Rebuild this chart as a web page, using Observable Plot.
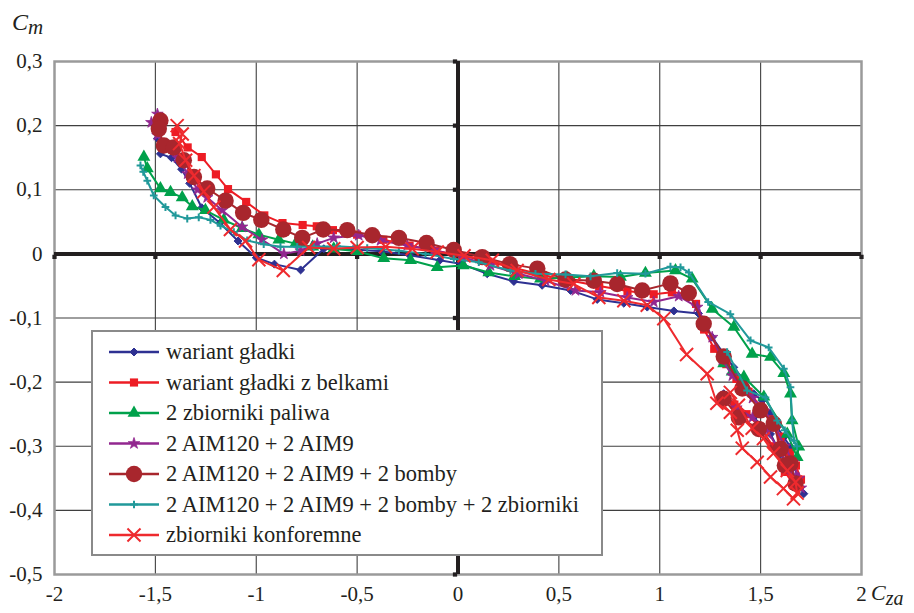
<!DOCTYPE html>
<html><head><meta charset="utf-8">
<script src="https://cdn.jsdelivr.net/npm/d3@7"></script>
<script src="https://cdn.jsdelivr.net/npm/@observablehq/plot@0.6"></script>
<style>
body{margin:0;background:#fff;}
#wrap{position:relative;width:914px;height:613px;}
#wrap svg text{font-family:"Liberation Serif","Times New Roman","DejaVu Serif",serif !important;}
</style></head><body><div id="wrap"></div>
<script>
// ---- data (Cza, Cm) ----
const xTicks = [-2, -1.5, -1, -0.5, 0, 0.5, 1, 1.5, 2];
const yTicks = [-0.5, -0.4, -0.3, -0.2, -0.1, 0, 0.1, 0.2, 0.3];

const seriesNames = [
  "wariant gładki",
  "wariant gładki z belkami",
  "2 zbiorniki paliwa",
  "2 AIM120 + 2 AIM9",
  "2 AIM120 + 2 AIM9 + 2 bomby",
  "2 AIM120 + 2 AIM9 + 2 bomby + 2 zbiorniki",
  "zbiorniki konforemne"
];
const seriesColors = ["#2e3192", "#ed1c24", "#00a14b", "#92278f", "#a8262d", "#21999a", "#ee2a2e"];
const seriesSymbols = ["diamond2", "square", "triangle", "star", "circle", "plus", "times"];

const gladki = [
  [-1.49, 0.180], [-1.475, 0.156], [-1.42, 0.150], [-1.37, 0.132], [-1.33, 0.110], [-1.27, 0.072],
  [-1.18, 0.048], [-1.09, 0.020], [-1.00, -0.006], [-0.91, -0.016], [-0.78, -0.025], [-0.665, 0.008],
  [-0.52, 0.007], [-0.38, 0.004], [-0.24, -0.002], [-0.09, -0.010], [0.02, -0.016], [0.145, -0.031],
  [0.277, -0.043], [0.417, -0.049], [0.558, -0.057], [0.69, -0.071], [0.822, -0.077], [0.938, -0.083],
  [1.07, -0.089], [1.192, -0.093], [1.26, -0.130], [1.317, -0.156], [1.367, -0.177], [1.417, -0.197],
  [1.466, -0.218], [1.508, -0.229], [1.549, -0.249], [1.582, -0.270], [1.615, -0.286], [1.648, -0.301],
  [1.664, -0.322], [1.681, -0.348], [1.714, -0.374], [1.698, -0.364], [1.648, -0.338], [1.599, -0.312],
  [1.549, -0.281], [1.466, -0.255], [1.367, -0.234], [1.317, -0.218]
];
const belki = [
  [-1.40, 0.190], [-1.34, 0.166], [-1.27, 0.151], [-1.20, 0.124], [-1.14, 0.101], [-1.05, 0.081],
  [-0.96, 0.060], [-0.87, 0.048], [-0.77, 0.045], [-0.70, 0.043], [-0.62, 0.037], [-0.50, 0.030],
  [-0.37, 0.022], [-0.24, 0.013], [-0.11, 0.005], [0.02, -0.003], [0.15, -0.012], [0.28, -0.022],
  [0.42, -0.033], [0.56, -0.042], [0.70, -0.050], [0.84, -0.058], [0.97, -0.063], [1.06, -0.060],
  [1.13, -0.062], [1.18, -0.078], [1.22, -0.118], [1.27, -0.148], [1.33, -0.172], [1.38, -0.195],
  [1.44, -0.215], [1.50, -0.238], [1.55, -0.258], [1.60, -0.285], [1.645, -0.310], [1.675, -0.330],
  [1.70, -0.352], [1.665, -0.360], [1.62, -0.340], [1.56, -0.300], [1.50, -0.270], [1.43, -0.250],
  [1.37, -0.235]
];
const paliwa = [
  [-1.557, 0.151], [-1.54, 0.133], [-1.475, 0.102], [-1.425, 0.096], [-1.367, 0.088], [-1.317, 0.074],
  [-1.252, 0.068], [-1.161, 0.053], [-1.07, 0.040], [-0.987, 0.030], [-0.888, 0.022], [-0.805, 0.016],
  [-0.72, 0.011], [-0.616, 0.008], [-0.50, 0.004], [-0.368, -0.007], [-0.235, -0.010], [-0.103, -0.021],
  [0.026, -0.018], [0.153, -0.029], [0.28, -0.035], [0.409, -0.039], [0.54, -0.037], [0.673, -0.035],
  [0.805, -0.036], [0.929, -0.030], [1.078, -0.026], [1.161, -0.039], [1.26, -0.086], [1.367, -0.114],
  [1.458, -0.156], [1.549, -0.161], [1.615, -0.186], [1.648, -0.218], [1.656, -0.260], [1.689, -0.301],
  [1.681, -0.317], [1.632, -0.281], [1.516, -0.223], [1.417, -0.192], [1.359, -0.184], [1.317, -0.171]
];
const aim = [
  [-1.49, 0.218], [-1.52, 0.205], [-1.49, 0.185], [-1.44, 0.168], [-1.39, 0.150], [-1.34, 0.125],
  [-1.29, 0.100], [-1.243, 0.088], [-1.169, 0.068], [-1.07, 0.042], [-0.971, 0.022], [-0.863, 0.000],
  [-0.78, 0.005], [-0.698, 0.016], [-0.616, 0.025], [-0.492, 0.029], [-0.384, 0.021], [-0.252, 0.013],
  [-0.12, 0.006], [0.02, -0.005], [0.161, -0.018], [0.301, -0.031], [0.434, -0.042], [0.582, -0.057],
  [0.706, -0.060], [0.839, -0.068], [0.97, -0.075], [1.094, -0.066], [1.186, -0.083], [1.26, -0.130],
  [1.31, -0.165], [1.36, -0.190], [1.41, -0.205], [1.46, -0.225], [1.52, -0.245], [1.57, -0.270],
  [1.62, -0.300], [1.66, -0.325], [1.69, -0.350], [1.70, -0.365], [1.66, -0.345], [1.60, -0.310],
  [1.53, -0.275], [1.46, -0.255], [1.38, -0.240]
];
const bomby = [
  [-1.475, 0.208], [-1.483, 0.195], [-1.458, 0.169], [-1.409, 0.166], [-1.359, 0.146], [-1.309, 0.120],
  [-1.243, 0.102], [-1.152, 0.083], [-1.065, 0.064], [-0.975, 0.053], [-0.866, 0.038], [-0.772, 0.025],
  [-0.668, 0.038], [-0.549, 0.037], [-0.425, 0.029], [-0.293, 0.025], [-0.156, 0.017], [-0.021, 0.006],
  [0.12, -0.005], [0.257, -0.016], [0.393, -0.023], [0.533, -0.040], [0.673, -0.042], [0.789, -0.047],
  [0.913, -0.057], [1.053, -0.046], [1.144, -0.061], [1.218, -0.109], [1.317, -0.160], [1.409, -0.210],
  [1.499, -0.244], [1.565, -0.265], [1.599, -0.304], [1.648, -0.327], [1.673, -0.358], [1.62, -0.330],
  [1.491, -0.273], [1.392, -0.255], [1.317, -0.226]
];
const bombyZbiorniki = [
  [-1.574, 0.138], [-1.56, 0.128], [-1.54, 0.114], [-1.508, 0.091], [-1.45, 0.073], [-1.40, 0.060],
  [-1.342, 0.055], [-1.285, 0.057], [-1.227, 0.053], [-1.177, 0.044], [-1.111, 0.034], [-1.045, 0.021],
  [-0.963, 0.015], [-0.88, 0.011], [-0.797, 0.011], [-0.715, 0.011], [-0.60, 0.012], [-0.45, 0.009],
  [-0.293, 0.005], [-0.161, 0.000], [-0.021, -0.008], [0.103, -0.013], [0.26, -0.026], [0.384, -0.031],
  [0.533, -0.032], [0.657, -0.035], [0.789, -0.030], [0.929, -0.031], [1.053, -0.020], [1.103, -0.021],
  [1.144, -0.029], [1.24, -0.075], [1.35, -0.094], [1.45, -0.135], [1.54, -0.146], [1.615, -0.179],
  [1.648, -0.208], [1.656, -0.260], [1.665, -0.291], [1.68, -0.300], [1.62, -0.275], [1.582, -0.260],
  [1.524, -0.224], [1.433, -0.213], [1.334, -0.153]
];
const konforemne = [
  [-1.392, 0.200], [-1.367, 0.187], [-1.38, 0.172], [-1.35, 0.146], [-1.309, 0.122], [-1.26, 0.097],
  [-1.21, 0.073], [-1.128, 0.038], [-1.053, 0.020], [-0.987, -0.009], [-0.866, -0.026], [-0.74, 0.010],
  [-0.616, 0.008], [-0.50, 0.010], [-0.359, 0.011], [-0.227, 0.008], [-0.103, 0.003], [0.03, -0.003],
  [0.17, -0.010], [0.293, -0.026], [0.45, -0.040], [0.574, -0.047], [0.698, -0.068], [0.822, -0.073],
  [0.938, -0.080], [1.02, -0.101], [1.133, -0.157], [1.235, -0.187], [1.283, -0.233], [1.35, -0.247],
  [1.384, -0.275], [1.409, -0.303], [1.483, -0.325], [1.549, -0.348], [1.613, -0.366], [1.663, -0.382],
  [1.681, -0.373], [1.673, -0.356], [1.632, -0.338], [1.564, -0.311], [1.514, -0.288], [1.458, -0.272],
  [1.39, -0.236], [1.35, -0.216]
];
const seriesPoints = [gladki, belki, paliwa, aim, bomby, bombyZbiorniki, konforemne];

// ---- styling ----
const symStyle = {
  diamond2: {r: 3.6, filled: true, sw: 1},
  square: {r: 4.6, filled: true, sw: 0},
  triangle: {r: 4.8, filled: true, sw: 0},
  star: {r: 3.6, filled: true, sw: 0.8},
  circle: {r: 8.2, filled: true, sw: 0},
  plus: {r: 2.6, filled: false, sw: 2},
  times: {r: 6, filled: false, sw: 2}
};
const d3Sym = {diamond2: d3.symbolDiamond2, square: d3.symbolSquare, triangle: d3.symbolTriangle,
  star: d3.symbolStar, circle: d3.symbolCircle, plus: d3.symbolPlus, times: d3.symbolTimes};
const ink = "#231f20";
const fmt = d => String(d).replace(".", ",");
const FONT = '"Liberation Serif", "Times New Roman", "DejaVu Serif", serif';

const seriesMarks = [];
seriesPoints.forEach((pts, i) => {
  const c = seriesColors[i], s = seriesSymbols[i], st = symStyle[s];
  seriesMarks.push(Plot.line(pts, {x: d => d[0], y: d => d[1], stroke: c, strokeWidth: 2}));
  seriesMarks.push(Plot.dot(pts, {x: d => d[0], y: d => d[1], symbol: () => s, r: st.r,
    fill: st.filled ? c : "none", stroke: c, strokeWidth: st.sw}));
});

const chart = Plot.plot({
  width: 914, height: 613,
  marginLeft: 54, marginRight: 53, marginTop: 61, marginBottom: 39,
  x: {domain: [-2, 2]},
  y: {domain: [-0.5, 0.3]},
  symbol: {type: "identity"},
  style: {fontFamily: FONT, background: "#fff", color: ink},
  marks: [
    Plot.ruleX(xTicks.filter(d => d !== 0 && Math.abs(d) !== 2), {stroke: "#3f3f3f", strokeWidth: 1.1}),
    Plot.ruleY(yTicks.filter(d => d !== 0 && d !== 0.3 && d !== -0.5), {stroke: "#3f3f3f", strokeWidth: 1.1}),
    Plot.frame({stroke: "#9a9a9a", strokeWidth: 2.5}),
    Plot.ruleX([0], {stroke: ink, strokeWidth: 4}),
    Plot.ruleY([0], {stroke: ink, strokeWidth: 4}),
    Plot.dot(xTicks, {x: d => d, y: 0, symbol: "square", r: 2.4, fill: ink, dy: 3}),
    Plot.dot(yTicks, {x: 0, y: d => d, symbol: "square", r: 2.4, fill: ink, dx: -3}),
    Plot.axisX(xTicks, {tickSize: 0, tickPadding: 12, tickFormat: fmt, fontSize: 21, fill: ink}),
    Plot.axisY(yTicks, {tickSize: 0, tickPadding: 12, tickFormat: fmt, fontSize: 21, fill: ink}),
    ...seriesMarks
  ]
});
document.getElementById("wrap").appendChild(chart);

// ---- axis titles & legend (drawn into the same svg) ----
const svg = d3.select(chart);
const t1 = svg.append("text").attr("x", 12).attr("y", 30).attr("fill", ink)
  .attr("text-anchor", "start").style("font-style", "italic");
t1.append("tspan").attr("font-size", 24).text("C");
t1.append("tspan").attr("font-size", 21).attr("dy", 4).text("m");
const t2 = svg.append("text").attr("x", 871).attr("y", 600).attr("fill", ink)
  .attr("text-anchor", "start").style("font-style", "italic");
t2.append("tspan").attr("font-size", 22).text("C");
t2.append("tspan").attr("font-size", 20).attr("dy", 5).text("za");

const lg = svg.append("g");
lg.append("rect").attr("x", 92).attr("y", 331).attr("width", 510).attr("height", 224)
  .attr("fill", "#fff").attr("stroke", "#8a8a8a").attr("stroke-width", 2);
seriesNames.forEach((name, i) => {
  const cy = 352 + i * 30.5, c = seriesColors[i], s = seriesSymbols[i], st = symStyle[s];
  lg.append("line").attr("x1", 109).attr("x2", 159).attr("y1", cy).attr("y2", cy)
    .attr("stroke", c).attr("stroke-width", 2.5);
  lg.append("path").attr("d", d3.symbol(d3Sym[s], Math.PI * st.r * st.r)())
    .attr("transform", `translate(134,${cy})`)
    .attr("fill", st.filled ? c : "none").attr("stroke", c).attr("stroke-width", st.sw);
  lg.append("text").attr("x", 166).attr("y", cy + 7).attr("fill", ink)
    .attr("text-anchor", "start").attr("font-size", 22.5).text(name);
});
</script></body></html>
